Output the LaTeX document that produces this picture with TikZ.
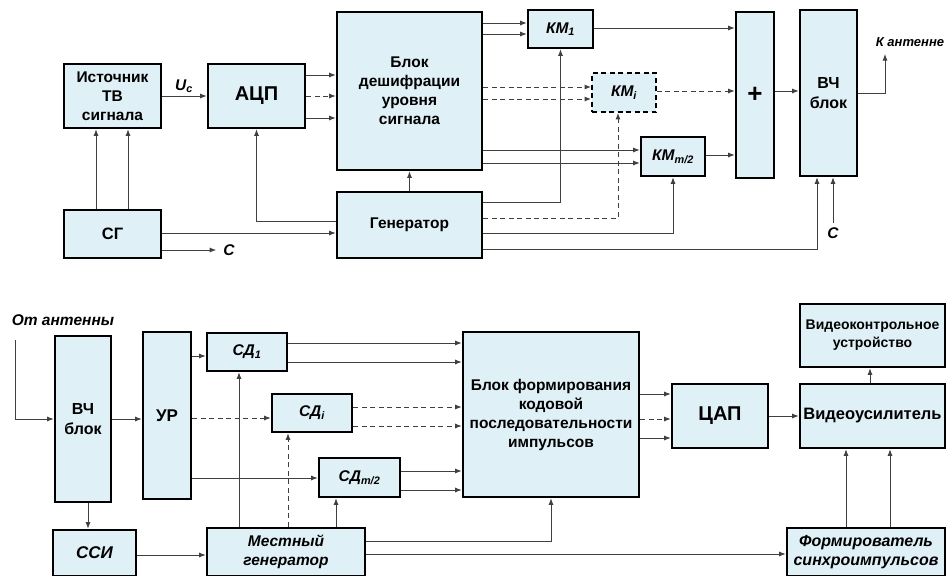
\documentclass[tikz,border=0pt]{standalone}
\usepackage{fontspec}
\setmainfont{Liberation Sans}
\usetikzlibrary{arrows.meta}
\definecolor{blockfill}{RGB}{224,240,247}
\definecolor{wirecol}{RGB}{64,64,64}
\begin{document}
\begin{tikzpicture}[x=1pt, y=-1pt,
    >={Latex[length=6.5pt,width=5pt]},
    block/.style={draw=black, line width=2.6pt, fill=blockfill, inner sep=0pt,
        align=center, font=\fontsize{15.5}{19}\selectfont\bfseries},
    itblock/.style={block, font=\fontsize{15.5}{19}\selectfont\bfseries\itshape},
    wire/.style={draw=wirecol, line width=0.9pt},
    dwire/.style={wire, dash pattern=on 5pt off 3.5pt},
    lbl/.style={font=\fontsize{15.5}{18}\selectfont\bfseries\itshape, inner sep=1pt}]
    \useasboundingbox (0,0) rectangle (946,576);

    % Transmitter
    \node[block, minimum width=97, minimum height=64] (src) at (112.5,96) {Источник\\ТВ\\сигнала};
    \node[block, minimum width=97, minimum height=64, font=\fontsize{20}{24}\selectfont\bfseries] (adc) at (256.5,96) {АЦП};
    \node[block, minimum width=97, minimum height=48, font=\fontsize{16.5}{20}\selectfont\bfseries] (sg) at (112.5,234) {СГ};
    \node[block, minimum width=145, minimum height=158] (dec) at (409.5,91) {Блок\\дешифрации\\уровня\\сигнала};
    \node[block, minimum width=145, minimum height=66] (gen) at (409.5,225) {Генератор};
    \node[itblock, minimum width=65, minimum height=38] (km1) at (560.5,29) {КМ\textsubscript{1}};
    \node[itblock, minimum width=64, minimum height=39, line width=1.8pt, dash pattern=on 5pt off 3.5pt] (kmi) at (624,92.5) {КМ\textsubscript{i}};
    \node[itblock, minimum width=64, minimum height=39] (kmm) at (673,156.5) {КМ\textsubscript{m/2}};
    \node[block, minimum width=38, minimum height=166, font=\fontsize{26}{26}\selectfont\bfseries] (sum) at (755,95) {+};
    \node[block, minimum width=57, minimum height=166, font=\fontsize{16}{20}\selectfont\bfseries] (hf) at (828.5,93) {ВЧ\\блок};

    \node[lbl] (uc) at (184,86) {U\textsubscript{c}};
    \node[lbl] (c1) at (229,250) {C};
    \node[lbl, inner sep=4pt] (c2) at (833,233) {C};
    \node[lbl, font=\fontsize{13}{16}\selectfont\bfseries\itshape] (ant1) at (910,42) {К антенне};
    \coordinate (antout) at (885,54);

    \draw[wire,->] (src) -- (adc);
    \foreach \x in {96,128}
        \draw[wire,->] (sg.north -| \x,0) -- (src.south -| \x,0);
    \draw[wire,->] (gen.west |- 0,221) -| (adc.south);
    \draw[wire,->] (sg.east |- 0,233) -- (gen.west |- 0,233);
    \draw[wire,->, shorten >=6pt] (sg.east |- 0,250) -- (c1.west);
    \foreach \y in {75,118}
        \draw[wire,->] (adc.east |- 0,\y) -- (dec.west |- 0,\y);
    \draw[dwire,->] (adc.east) -- (adc.east -| dec.west);
    \draw[wire,->] (gen) -- (dec);
    \foreach \y in {23,34}
        \draw[wire,->] (dec.east |- 0,\y) -- (km1.west |- 0,\y);
    \foreach \y in {87,99}
        \draw[dwire,->] (dec.east |- 0,\y) -- (kmi.west |- 0,\y);
    \foreach \y in {150,163}
        \draw[wire,->] (dec.east |- 0,\y) -- (kmm.west |- 0,\y);
    \draw[wire,->] (gen.east |- 0,202) -| (km1.south);
    \draw[dwire,->] (gen.east |- 0,218) -| (kmi.south -| 618,0);
    \draw[wire,->] (gen.east |- 0,233) -| (kmm.south);
    \draw[wire,->] (gen.east |- 0,249) -| (hf.south -| 817,0);
    \draw[wire,->] (c2.north) -- (hf.south -| c2);
    \draw[wire,->] (km1.east |- 0,28) -- (sum.west |- 0,28);
    \draw[dwire,->] (kmi.east |- 0,91) -- (sum.west |- 0,91);
    \draw[wire,->] (kmm.east |- 0,155) -- (sum.west |- 0,155);
    \draw[wire,->] (sum.east |- 0,91) -- (hf.west |- 0,91);
    \draw[wire,->] (hf.east |- 0,93) -| (antout);

    % Receiver
    \node[block, minimum width=56, minimum height=166, font=\fontsize{16}{20}\selectfont\bfseries] (hf2) at (83,419) {ВЧ\\блок};
    \node[block, minimum width=48, minimum height=167, font=\fontsize{17}{20}\selectfont\bfseries] (ur) at (167,415.5) {УР};
    \node[itblock, minimum width=80, minimum height=38] (sd1) at (247,352) {СД\textsubscript{1}};
    \node[itblock, minimum width=80, minimum height=38] (sdi) at (312,413) {СД\textsubscript{i}};
    \node[itblock, minimum width=81, minimum height=39] (sdm) at (359.5,477.5) {СД\textsubscript{m/2}};
    \node[block, minimum width=176, minimum height=165] (form) at (551,414.5) {Блок формирования\\кодовой\\последовательности\\импульсов};
    \node[block, minimum width=96, minimum height=64, font=\fontsize{20}{24}\selectfont\bfseries] (dac) at (720,416) {ЦАП};
    \node[block, minimum width=145, minimum height=64, font=\fontsize{16.5}{20}\selectfont\bfseries] (vamp) at (872.5,416) {Видеоусилитель};
    \node[block, minimum width=145, minimum height=63, font=\fontsize{14}{18}\selectfont\bfseries] (vku) at (872.5,335.5) {Видеоконтрольное\\устройство};
    \node[itblock, minimum width=83, minimum height=46, font=\fontsize{17}{20}\selectfont\bfseries\itshape] (ssi) at (94.5,553) {ССИ};
    \node[itblock, minimum width=158, minimum height=48] (lg) at (286,552) {Местный\\генератор};
    \node[itblock, minimum width=158, minimum height=48, font=\fontsize{16}{19}\selectfont\bfseries\itshape] (sync) at (866,552) {Формирователь\\синхроимпульсов};

    \node[lbl] (ant2) at (63,320) {От антенны};
    \coordinate (antin) at (15,340);

    \draw[wire,->] (antin) |- (hf2.west);
    \draw[wire,->] (hf2) -- (ur.west |- hf2);
    \draw[wire,->] (hf2.south -| 88,0) -- (ssi.north -| 88,0);
    \draw[wire,->] (ur.east |- 0,356) -- (sd1.west |- 0,356);
    \draw[dwire,->] (ur.east |- 0,418) -- (sdi.west |- 0,418);
    \draw[wire,->] (ur.east |- 0,478) -- (sdm.west |- 0,478);
    \foreach \y in {343,362}
        \draw[wire,->] (sd1.east |- 0,\y) -- (form.west |- 0,\y);
    \foreach \y in {407,426}
        \draw[dwire,->] (sdi.east |- 0,\y) -- (form.west |- 0,\y);
    \foreach \y in {471,490}
        \draw[wire,->] (sdm.east |- 0,\y) -- (form.west |- 0,\y);
    \draw[wire,->] (ssi.east |- 0,555) -- (lg.west |- 0,555);
    \draw[wire,->] (lg.north -| 239,0) -- (sd1.south -| 239,0);
    \draw[dwire,->] (lg.north -| 288,0) -- (sdi.south -| 288,0);
    \draw[wire,->] (lg.north -| 336,0) -- (sdm.south -| 336,0);
    \draw[wire,->] (lg.east |- 0,541) -| (form.south);
    \draw[wire,->] (lg.east |- 0,554) -- (sync.west |- 0,554);
    \draw[wire,->] (form.east |- 0,394) -- (dac.west |- 0,394);
    \draw[dwire,->] (form.east |- 0,419) -- (dac.west |- 0,419);
    \draw[wire,->] (form.east |- 0,438) -- (dac.west |- 0,438);
    \draw[wire,->] (dac) -- (vamp);
    \draw[wire,->] (vamp.north -| 870,0) -- (vku.south -| 870,0);
    \foreach \x in {846,890}
        \draw[wire,->] (sync.north -| \x,0) -- (vamp.south -| \x,0);
\end{tikzpicture}
\end{document}
